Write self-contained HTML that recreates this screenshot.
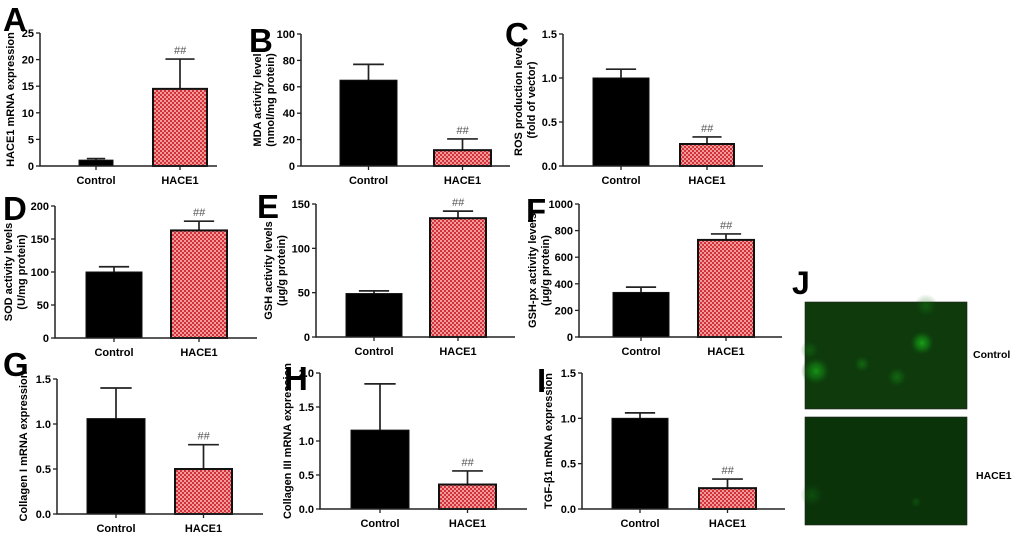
<!DOCTYPE html>
<html><head><meta charset="utf-8"><style>
html,body{margin:0;padding:0;background:#fff;}
svg{display:block;font-family:"Liberation Sans",Arial,sans-serif;}
</style></head><body>
<svg id="fig" width="1020" height="536" viewBox="0 0 1020 536">
<defs>
<pattern id="chk" width="4" height="4" patternUnits="userSpaceOnUse">
<rect width="4" height="4" fill="#d2323a"/>
<rect width="2" height="2" fill="#f29a9a"/>
<rect x="2" y="2" width="2" height="2" fill="#f29a9a"/>
</pattern>
<radialGradient id="cell"><stop offset="0" stop-color="#17a317"/><stop offset="0.5" stop-color="#127a12" stop-opacity="0.7"/><stop offset="1" stop-color="#0d3d0d" stop-opacity="0"/></radialGradient>
</defs>
<g id="panels"></g>
<g>
<text x="792" y="294" font-size="32" font-weight="bold">J</text>
<rect x="805" y="302" width="162" height="107" fill="#0e3a0c" stroke="#222" stroke-width="0.6"/>
<circle cx="922" cy="343" r="13" fill="url(#cell)"/>
<circle cx="816" cy="371" r="15" fill="url(#cell)" opacity="0.85"/>
<circle cx="862" cy="364" r="9" fill="url(#cell)" opacity="0.45"/>
<circle cx="897" cy="377" r="11" fill="url(#cell)" opacity="0.45"/>
<circle cx="926" cy="306" r="12" fill="url(#cell)" opacity="0.3"/>
<circle cx="810" cy="350" r="10" fill="url(#cell)" opacity="0.3"/>
<rect x="805" y="417" width="162" height="108" fill="#0b330a" stroke="#222" stroke-width="0.6"/>
<circle cx="812" cy="495" r="12" fill="url(#cell)" opacity="0.25"/>
<circle cx="916" cy="502" r="6" fill="url(#cell)" opacity="0.25"/>
<text x="973" y="358" font-size="10.5" font-weight="bold">Control</text>
<text x="976" y="479" font-size="10.5" font-weight="bold">HACE1</text>
</g>
</svg>
<script>
const categories=["Control","HACE1"];
const valsA=[1.1,14.5], errA=[0.3,5.6];
const valsB=[65,12], errB=[12,8.5];
const valsC=[1.0,0.25], errC=[0.1,0.08];
const valsD=[100,163], errD=[8,14];
const valsE=[49,134], errE=[3,8];
const valsF=[335,730], errF=[40,45];
const valsG=[1.06,0.5], errG=[0.34,0.27];
const valsH=[1.16,0.36], errH=[0.68,0.2];
const valsI=[1.0,0.23], errI=[0.06,0.1];
const ticksA=[0,5,10,15,20,25], ticksB=[0,20,40,60,80,100], ticksC=[0,0.5,1.0,1.5];
const ticksD=[0,50,100,150,200], ticksE=[0,50,100,150], ticksF=[0,200,400,600,800,1000];
const ticksG=[0,0.5,1.0,1.5], ticksH=[0,0.5,1.0,1.5,2.0], ticksI=[0,0.5,1.0,1.5];
const NS="http://www.w3.org/2000/svg";
const root=document.getElementById('panels');
function mk(tag,attrs,parent){const e=document.createElementNS(NS,tag);for(const k in attrs)e.setAttribute(k,attrs[k]);parent.appendChild(e);return e;}
const layout=[
{id:'a',L:'A',lx:3,ly:31,ax:40,top:33,bot:166,xe:217,bars:[[79,113],[153,207]],vals:valsA,errs:errA,ticks:ticksA,dec:0,title:["HACE1 mRNA expression"],tx:14},
{id:'b',L:'B',lx:249,ly:52,ax:301,top:34,bot:166,xe:510,bars:[[340,397],[434,491]],vals:valsB,errs:errB,ticks:ticksB,dec:0,title:["MDA activity level","(nmol/mg protein)"],tx:261},
{id:'c',L:'C',lx:505,ly:46,ax:563,top:34,bot:166,xe:763,bars:[[593,649],[680,734]],vals:valsC,errs:errC,ticks:ticksC,dec:1,title:["ROS production level","(fold of vector)"],tx:522},
{id:'d',L:'D',lx:3,ly:220,ax:55,top:206,bot:338,xe:257,bars:[[86,142],[171,227]],vals:valsD,errs:errD,ticks:ticksD,dec:0,title:["SOD activity levels","(U/mg protein)"],tx:12},
{id:'e',L:'E',lx:257,ly:218,ax:316,top:204,bot:337,xe:515,bars:[[346,402],[430,486]],vals:valsE,errs:errE,ticks:ticksE,dec:0,title:["GSH activity levels","(μg/g protein)"],tx:272},
{id:'f',L:'F',lx:526,ly:222,ax:579,top:204,bot:337,xe:782,bars:[[613,669],[698,754]],vals:valsF,errs:errF,ticks:ticksF,dec:0,title:["GSH-px activity levels","(μg/g protein)"],tx:536},
{id:'g',L:'G',lx:3,ly:376,ax:57,top:379,bot:514,xe:263,bars:[[87,145],[175,232]],vals:valsG,errs:errG,ticks:ticksG,dec:1,title:["Collagen I mRNA expression"],tx:27},
{id:'h',L:'H',lx:284,ly:390,ax:320,top:373,bot:509,xe:527,bars:[[351,409],[439,496]],vals:valsH,errs:errH,ticks:ticksH,dec:1,title:["Collagen III mRNA expression"],tx:291},
{id:'i',L:'I',lx:537,ly:392,ax:582,top:373,bot:509,xe:785,bars:[[612,668],[699,756]],vals:valsI,errs:errI,ticks:ticksI,dec:1,title:["TGF-β1 mRNA expression"],tx:552}
];
layout.forEach(p=>{
  const g=mk('g',{},root);
  
  
  const ymax=p.ticks[p.ticks.length-1];
  const y=v=>p.bot-(v/ymax)*(p.bot-p.top);
  const let_=mk('text',{x:p.lx,y:p.ly,'font-size':33,'font-weight':'bold'},g);let_.textContent=p.L;
  
  
  p.vals.forEach((v,i)=>{
    const [x0,x1]=p.bars[i];const w=x1-x0;const cx=(x0+x1)/2;
    const et=y(v+p.errs[i]);
    const eb=mk('path',{d:`M${cx} ${y(v)}V${et}M${cx-w*0.27} ${et}H${cx+w*0.27}`,stroke:'#222','stroke-width':1.7,fill:'none'},g);
    
    
    const r=mk('rect',{x:x0,y:y(v),width:w,height:Math.max(1,p.bot-y(v)),fill:i==0?'#000':'url(#chk)',stroke:'#111','stroke-width':i==0?1:2},g);
    
    
    const cl=mk('text',{x:cx,y:p.bot+18,'font-size':11,'font-weight':'bold','text-anchor':'middle'},g);cl.textContent=categories[i];
    
    
    mk('line',{x1:cx,x2:cx,y1:p.bot,y2:p.bot+4,stroke:'#222','stroke-width':1.3},g);
    if(i==1){const s=mk('text',{x:cx,y:et-5,'font-size':11,fill:'#555','text-anchor':'middle','font-style':'italic'},g);s.textContent='##';
      
      }
  });
  const ax=mk('path',{d:`M${p.ax} ${p.top}V${p.bot}H${p.xe}`,stroke:'#222','stroke-width':1.5,fill:'none'},g);
  
  
  p.ticks.forEach(t=>{
    mk('line',{x1:p.ax-4,x2:p.ax,y1:y(t),y2:y(t),stroke:'#222','stroke-width':1.3},g);
    const tl=mk('text',{x:p.ax-6,y:y(t)+4,'font-size':11,'font-weight':'bold','text-anchor':'end'},g);tl.textContent=t.toFixed(p.dec);
    
    
  });
  const cy=(p.top+p.bot)/2;
  p.title.forEach((t,j)=>{
    const xx=p.tx+j*13;
    const tt=mk('text',{x:xx,y:cy,'font-size':11,'font-weight':'bold','text-anchor':'middle',transform:`rotate(-90 ${xx} ${cy})`},g);tt.textContent=t;
    
    
  });
});
</script>
</body></html>
